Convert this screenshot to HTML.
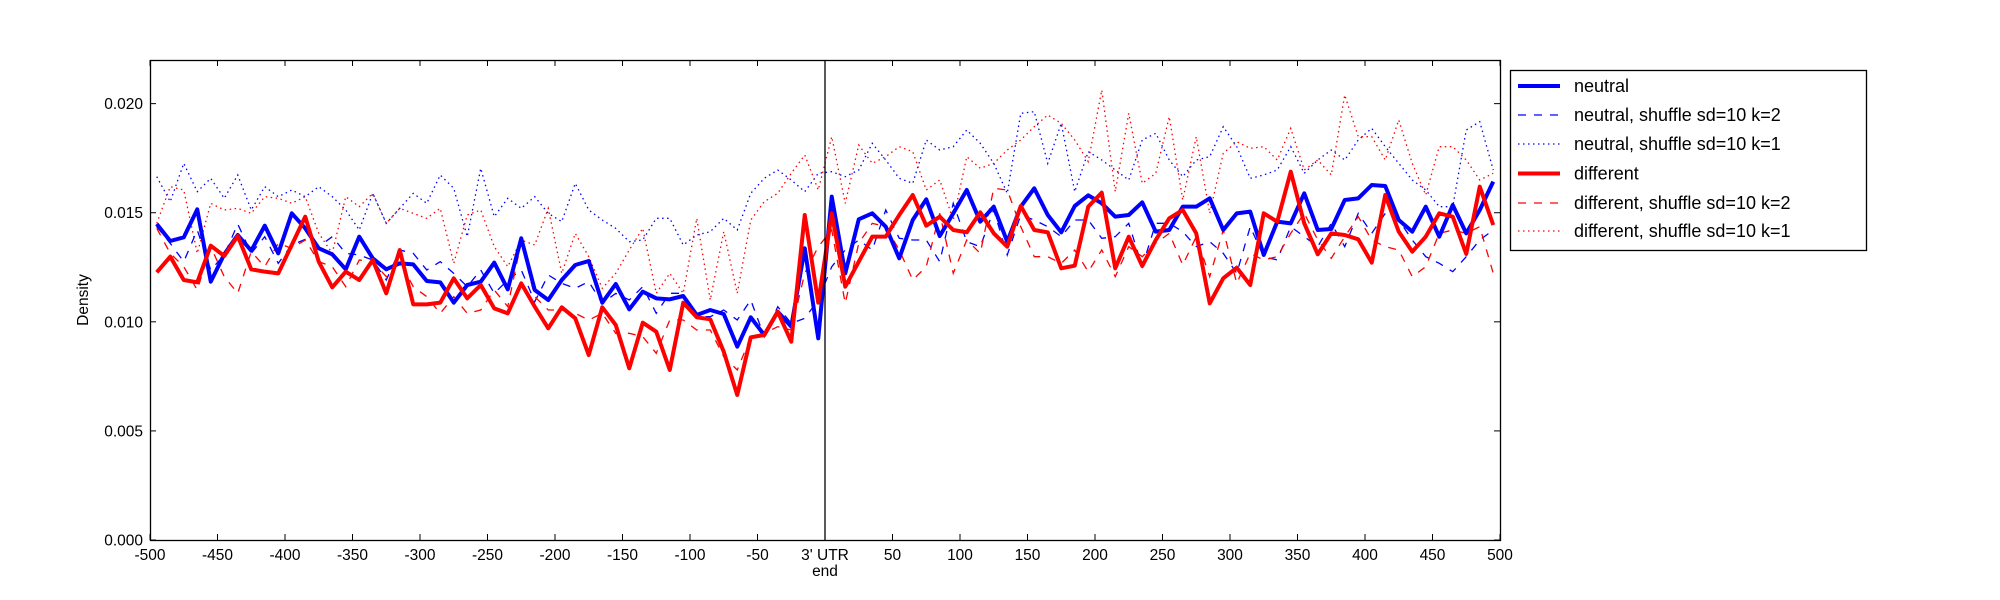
<!DOCTYPE html>
<html><head><meta charset="utf-8"><style>
html,body{margin:0;padding:0;background:#fff;}
svg{display:block;font-family:"Liberation Sans","DejaVu Sans",sans-serif;}
</style></head><body>
<svg id="s" width="2000" height="600" viewBox="0 0 2000 600" xmlns="http://www.w3.org/2000/svg">
<rect width="2000" height="600" fill="#fff"/>
<g id="lines"></g>
<line x1="825" y1="60" x2="825" y2="540" stroke="#000" stroke-width="1.3"/>
<rect x="150.5" y="60.5" width="1350" height="480" fill="none" stroke="#000" stroke-width="1.3"/>
<g id="ticks" stroke="#000" stroke-width="1"></g>
<g id="labels" font-size="15.5" fill="#000"></g>
<text x="825" y="576" font-size="15.5" text-anchor="middle">end</text>
<text transform="translate(88,300) rotate(-90)" font-size="15.5" text-anchor="middle">Density</text>
<rect x="1510.5" y="70.5" width="356" height="180" fill="#fff" stroke="#000" stroke-width="1.3"/>
<g font-size="18" fill="#000">
<line x1="1518" y1="86" x2="1560" y2="86" stroke="#0000ff" stroke-width="4"/>
<text x="1574" y="92">neutral</text>
<line x1="1518" y1="115" x2="1560" y2="115" stroke="#0000ff" stroke-width="1.3" stroke-dasharray="8,8"/>
<text x="1574" y="121">neutral, shuffle sd=10 k=2</text>
<line x1="1518" y1="144" x2="1560" y2="144" stroke="#0000ff" stroke-width="1.3" stroke-dasharray="1.5,3.5"/>
<text x="1574" y="150">neutral, shuffle sd=10 k=1</text>
<line x1="1518" y1="173.5" x2="1560" y2="173.5" stroke="#ff0000" stroke-width="4"/>
<text x="1574" y="179.5">different</text>
<line x1="1518" y1="203" x2="1560" y2="203" stroke="#ff0000" stroke-width="1.3" stroke-dasharray="8,8"/>
<text x="1574" y="209">different, shuffle sd=10 k=2</text>
<line x1="1518" y1="231" x2="1560" y2="231" stroke="#ff0000" stroke-width="1.3" stroke-dasharray="1.5,3.5"/>
<text x="1574" y="237">different, shuffle sd=10 k=1</text>
</g>
</svg>
<script>
var NS="http://www.w3.org/2000/svg";
function el(t,a,p){var e=document.createElementNS(NS,t);for(var k in a)e.setAttribute(k,a[k]);p.appendChild(e);return e;}
var bs=[432,483,472,388,605,523,465,512,437,520,400,445,505,523,568,470,535,568,550,553,603,607,668,615,605,
548,628,475,630,660,600,555,543,668,612,688,635,655,658,648,705,690,702,800,712,765,695,740,505,775,
350,580,418,400,440,535,420,358,468,400,330,425,380,485,380,325,405,457,378,346,370,410,405,367,455,
450,380,380,355,450,400,395,525,425,430,340,450,447,360,355,315,318,420,455,380,470,375,460,390,305];
var rs=[577,530,600,607,497,528,468,568,575,580,495,410,545,622,575,600,540,640,510,673,673,668,595,655,615,
685,700,610,680,745,682,715,825,682,735,865,728,755,870,668,712,718,815,945,772,765,695,785,405,668,
400,620,545,470,470,405,345,437,410,450,457,397,460,500,378,450,457,565,557,380,338,565,470,558,480,
415,390,460,670,595,563,615,400,425,275,430,523,460,465,478,548,345,455,515,470,400,410,522,320,435];
var bd=[440,490,545,450,570,525,432,520,470,550,495,478,500,470,520,525,540,600,510,520,570,545,580,620,570,
640,600,570,665,585,610,625,605,670,640,660,620,700,640,640,710,710,690,720,660,770,680,730,715,660,
560,510,480,510,390,475,480,480,545,370,485,500,390,525,405,420,440,470,420,420,475,470,430,560,430,
430,455,500,485,520,580,440,530,540,440,470,500,430,500,400,460,400,420,480,530,550,575,530,480,450];
var rd=[445,520,560,630,500,590,640,515,560,490,505,480,545,560,620,540,545,590,545,620,650,700,650,700,690,
630,680,485,650,690,690,700,720,700,760,760,770,820,720,720,750,750,830,870,770,760,740,750,580,500,
450,670,490,430,440,510,600,560,400,580,480,520,325,330,440,530,530,550,510,575,510,590,500,530,490,
460,555,470,590,450,610,520,540,530,460,400,480,535,470,410,480,500,510,590,560,460,450,460,440,580];
var bo=[290,365,250,335,295,355,285,390,320,350,330,350,320,350,390,450,340,430,385,340,370,285,325,470,265,
410,355,385,350,400,425,310,390,420,445,485,480,415,415,495,465,455,415,450,340,295,270,300,335,280,
275,290,270,190,240,295,310,180,210,200,150,190,250,340,100,95,250,130,335,215,240,270,300,180,160,
240,290,240,230,140,200,295,285,270,200,280,240,210,240,180,145,200,250,300,330,380,380,150,125,270];
var ro=[430,320,330,520,370,390,385,400,350,355,370,350,460,520,350,380,340,430,385,400,415,385,550,405,390,
500,560,480,495,385,580,460,530,625,580,510,445,640,580,640,415,660,455,640,420,365,340,280,225,330,
170,370,195,250,230,200,215,330,300,420,230,265,250,210,180,140,105,130,180,245,30,335,100,310,280,
110,360,170,400,220,185,205,200,240,145,270,240,285,45,170,170,240,120,250,345,200,200,240,300,280];
function pts(a){return a.map(function(v,i){return (156.75+13.5*i).toFixed(2)+","+(80+v/3).toFixed(2);}).join(" ");}
var g=document.getElementById("lines");
[[bo,"#0000ff","1.5,3.5"],[ro,"#ff0000","1.5,3.5"],[bd,"#0000ff","8,8"],[rd,"#ff0000","8,8"]].forEach(function(s){
el("polyline",{points:pts(s[0]),fill:"none",stroke:s[1],"stroke-width":1.3,"stroke-dasharray":s[2]},g);});
el("polyline",{points:pts(bs),fill:"none",stroke:"#0000ff","stroke-width":4,"stroke-linejoin":"round"},g);
el("polyline",{points:pts(rs),fill:"none",stroke:"#ff0000","stroke-width":4,"stroke-linejoin":"round"},g);
var t=document.getElementById("ticks"),L=document.getElementById("labels");
for(var i=0;i<=20;i++){var x=150+67.5*i;
el("line",{x1:x,y1:540,x2:x,y2:534},t);el("line",{x1:x,y1:60,x2:x,y2:66},t);
var v=-500+50*i;var lab=v==0?"3' UTR":String(v);
var tx=el("text",{x:x,y:560,"text-anchor":"middle"},L);tx.textContent=lab;}
var yl=["0.000","0.005","0.010","0.015","0.020"];
for(var j=0;j<5;j++){var y=540-j*0.005/0.022*480;
el("line",{x1:150,y1:y,x2:156,y2:y},t);el("line",{x1:1500,y1:y,x2:1494,y2:y},t);
var ty=el("text",{x:143,y:y+5.5,"text-anchor":"end"},L);ty.textContent=yl[j];}
</script>
</body></html>
